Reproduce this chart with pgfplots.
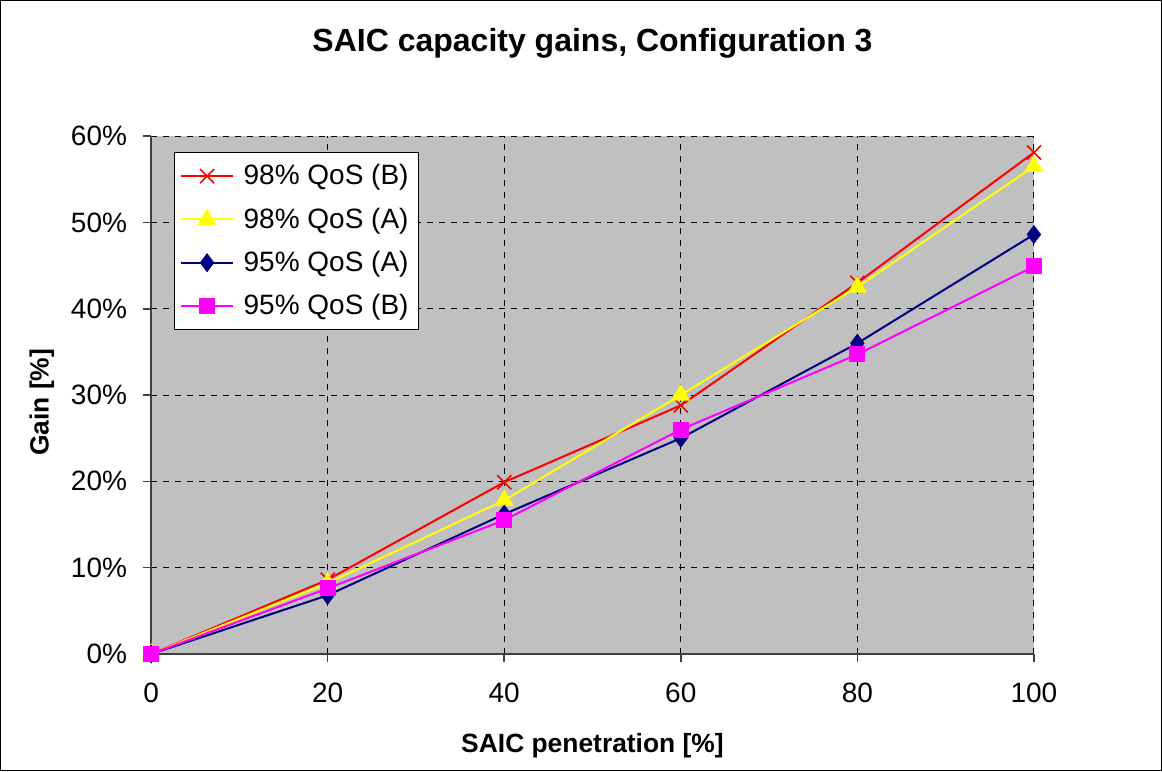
\documentclass[border=0pt]{standalone}
\usepackage{pgfplots}
\pgfplotsset{compat=1.18}
\usepackage{fontspec}
\setmainfont{Liberation Sans}
\definecolor{plotbg}{HTML}{C0C0C0}
\definecolor{navy}{HTML}{000080}
\definecolor{magenta2}{HTML}{FF00FF}
\definecolor{yel}{HTML}{FFFF00}

\begin{document}
\begin{tikzpicture}[x=0.5pt,y=0.5pt]
  % outer frame of the chart (1162 x 771 units)
  \draw[black, line width=0.6pt] (-150.5,-116.5) rectangle (1010.5,653.5);
  \begin{axis}[
    at={(0,0)}, anchor=origin,
    scale only axis,
    width=441.5pt, height=259pt,
    xmin=0, xmax=100, ymin=0, ymax=60,
    xtick={0,20,40,60,80,100},
    ytick={0,10,20,30,40,50,60},
    yticklabel={\pgfmathprintnumber{\tick}\%},
    /pgf/number format/assume math mode=true,
    axis x line=bottom, axis y line=left,
    axis line style={-, draw=black!75, line width=0.8pt},
    tick style={black!75, line width=0.8pt},
    major tick length=4pt,
    tick align=outside,
    xmajorgrids, ymajorgrids,
    grid style={black, dashed, line width=0.5pt},
    axis background/.style={fill=plotbg},
    ticklabel style={font=\fontsize{14}{16}\selectfont},
    xticklabel style={yshift=-7pt},
    yticklabel style={xshift=-4.5pt},
    title={\textbf{SAIC capacity gains, Configuration 3}},
    title style={font=\fontsize{16}{19}\selectfont, at={(0.5,1)}, anchor=base, yshift=36.5pt},
    xlabel={\textbf{SAIC penetration [\%]}},
    ylabel={\textbf{Gain [\%]}},
    label style={font=\fontsize{13.2}{15}\selectfont},
    xlabel style={at={(axis description cs:0.5,0)}, anchor=base, yshift=-49.5pt},
    ylabel style={at={(axis description cs:-0.1237,0.486)}, anchor=center},
    legend style={at={(rel axis cs:0,1)}, anchor=north west, xshift=11.5pt, yshift=-8pt,
      draw=black, fill=white, font=\fontsize{14}{16}\selectfont,
      row sep=6pt, column sep=3pt, inner xsep=3pt, inner ysep=4pt},
    legend cell align=left,
    legend image code/.code={%
      \draw[mark repeat=2, mark phase=2, #1]
        plot coordinates {(0cm,0cm) (0.45cm,0cm) (0.9cm,0cm)};},
    every axis plot/.append style={line width=1pt},
  ]
    \addplot[color=red, mark=x, mark size=5pt, mark options={line width=0.8pt}]
      coordinates {(0,0) (20,8.6) (40,19.9) (60,28.8) (80,43.0) (100,58.1)};
    \addplot[color=yel, mark=triangle*, mark size=4.5pt]
      coordinates {(0,0) (20,8.2) (40,17.8) (60,30.0) (80,42.5) (100,56.5)};
    \addplot[color=navy, mark=diamond*, mark size=4pt]
      coordinates {(0,0) (20,6.8) (40,16.2) (60,25.0) (80,36.0) (100,48.6)};
    \addplot[color=magenta2, mark=square*, mark size=3.5pt]
      coordinates {(0,0) (20,7.6) (40,15.5) (60,26.0) (80,34.7) (100,44.9)};
    \legend{98\% QoS (B), 98\% QoS (A), 95\% QoS (A), 95\% QoS (B)}
  \end{axis}
\end{tikzpicture}
\end{document}
